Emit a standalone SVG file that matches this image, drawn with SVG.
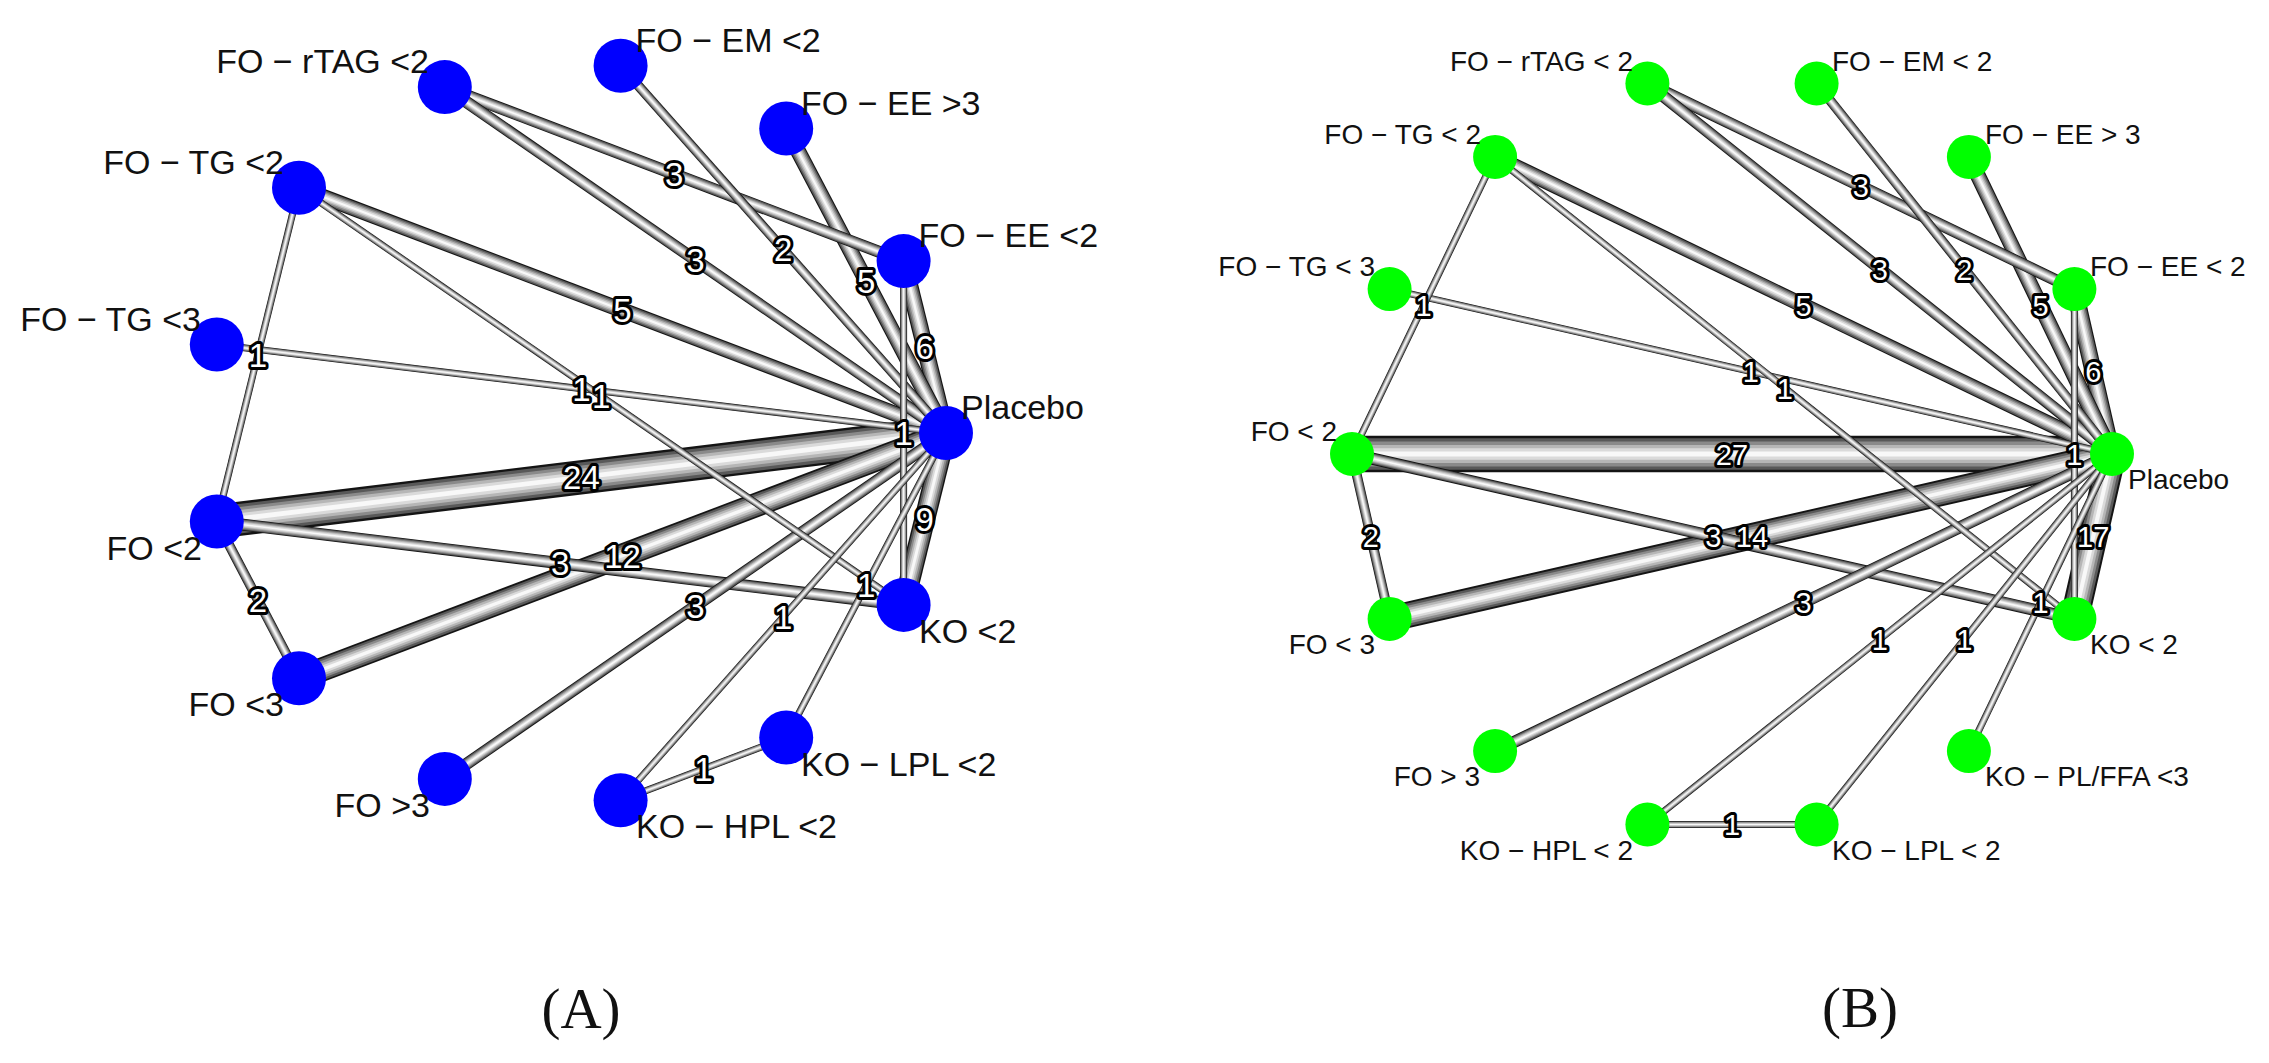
<svg xmlns="http://www.w3.org/2000/svg" xmlns:xlink="http://www.w3.org/1999/xlink" width="2269" height="1063" viewBox="0 0 2269 1063">
<style>
.e use{fill:none;stroke-linecap:butt}
.k1{stroke:#141414;stroke-width:calc(var(--w) * 1px)}
.k2{stroke:#595959;stroke-width:calc(var(--w) * 0.86px)}
.k3{stroke:#8a8a8a;stroke-width:calc(var(--w) * 0.68px)}
.k4{stroke:#b6b6b6;stroke-width:calc(var(--w) * 0.5px)}
.k5{stroke:#dadada;stroke-width:calc(var(--w) * 0.32px)}
.k6{stroke:#f8f8f8;stroke-width:calc(var(--w) * 0.14px)}
.na{font-family:"Liberation Sans",Arial,sans-serif;font-size:34px;fill:#111}
.nb{font-family:"Liberation Sans",Arial,sans-serif;font-size:28px;fill:#111}
.r{text-anchor:end}
.A circle{fill:#0000ff}
.B circle{fill:#00ff00}
.num{font-family:"Liberation Sans",Arial,sans-serif;fill:#fff;stroke:#000;stroke-width:6px;paint-order:stroke;stroke-linejoin:round;text-anchor:middle}
.numA{font-size:33px}
.numB{font-size:29px}
.cap{font-family:"Liberation Serif","Times New Roman",serif;font-size:57px;fill:#111;text-anchor:middle}
</style>
<defs>
<line id="aE1" x1="444.8" y1="87.1" x2="903.6" y2="261.1"/>
<line id="aE2" x1="444.8" y1="87.1" x2="946" y2="433"/>
<line id="aE3" x1="620.6" y1="65.7" x2="946" y2="433"/>
<line id="aE4" x1="786.2" y1="128.5" x2="946" y2="433"/>
<line id="aE5" x1="903.6" y1="261.1" x2="946" y2="433"/>
<line id="aE6" x1="299" y1="187.7" x2="946" y2="433"/>
<line id="aE7" x1="216.8" y1="344.5" x2="946" y2="433"/>
<line id="aE8" x1="299" y1="187.7" x2="903.6" y2="604.9"/>
<line id="aE9" x1="299" y1="187.7" x2="216.8" y2="521.5"/>
<line id="aE10" x1="216.8" y1="521.5" x2="946" y2="433"/>
<line id="aE11" x1="903.6" y1="261.1" x2="903.6" y2="604.9"/>
<line id="aE12" x1="216.8" y1="521.5" x2="299" y2="678.3"/>
<line id="aE13" x1="216.8" y1="521.5" x2="903.6" y2="604.9"/>
<line id="aE14" x1="299" y1="678.3" x2="946" y2="433"/>
<line id="aE15" x1="946" y1="433" x2="903.6" y2="604.9"/>
<line id="aE16" x1="444.8" y1="778.9" x2="946" y2="433"/>
<line id="aE17" x1="620.6" y1="800.3" x2="946" y2="433"/>
<line id="aE18" x1="786.2" y1="737.5" x2="946" y2="433"/>
<line id="aE19" x1="620.6" y1="800.3" x2="786.2" y2="737.5"/>
<line id="bE1" x1="1647.4" y1="83.5" x2="2074.4" y2="289.1"/>
<line id="bE2" x1="1647.4" y1="83.5" x2="2112" y2="454"/>
<line id="bE3" x1="1816.6" y1="83.5" x2="2112" y2="454"/>
<line id="bE4" x1="1968.9" y1="156.9" x2="2112" y2="454"/>
<line id="bE5" x1="2074.4" y1="289.1" x2="2112" y2="454"/>
<line id="bE6" x1="1495.1" y1="156.9" x2="2112" y2="454"/>
<line id="bE7" x1="1389.6" y1="289.1" x2="2112" y2="454"/>
<line id="bE8" x1="1495.1" y1="156.9" x2="2074.4" y2="618.9"/>
<line id="bE9" x1="1495.1" y1="156.9" x2="1352" y2="454"/>
<line id="bE10" x1="1352" y1="454" x2="2112" y2="454"/>
<line id="bE11" x1="2074.4" y1="289.1" x2="2074.4" y2="618.9"/>
<line id="bE12" x1="1352" y1="454" x2="1389.6" y2="618.9"/>
<line id="bE13" x1="1352" y1="454" x2="2074.4" y2="618.9"/>
<line id="bE14" x1="1389.6" y1="618.9" x2="2112" y2="454"/>
<line id="bE15" x1="2112" y1="454" x2="2074.4" y2="618.9"/>
<line id="bE16" x1="1495.1" y1="751.1" x2="2112" y2="454"/>
<line id="bE17" x1="1647.4" y1="824.5" x2="2112" y2="454"/>
<line id="bE18" x1="1816.6" y1="824.5" x2="2112" y2="454"/>
<line id="bE19" x1="1968.9" y1="751.1" x2="2112" y2="454"/>
<line id="bE20" x1="1647.4" y1="824.5" x2="1816.6" y2="824.5"/>
</defs>
<rect x="0" y="0" width="2269" height="1063" fill="#fff"/>

<g id="connectors">
<g id="edges-A">
<g class="e" style="--w:34.3"><use href="#aE10" class="k1"/><use href="#aE10" class="k2"/><use href="#aE10" class="k3"/><use href="#aE10" class="k4"/><use href="#aE10" class="k5"/><use href="#aE10" class="k6"/></g>
<g class="e" style="--w:24.2"><use href="#aE14" class="k1"/><use href="#aE14" class="k2"/><use href="#aE14" class="k3"/><use href="#aE14" class="k4"/><use href="#aE14" class="k5"/><use href="#aE14" class="k6"/></g>
<g class="e" style="--w:21"><use href="#aE15" class="k1"/><use href="#aE15" class="k2"/><use href="#aE15" class="k3"/><use href="#aE15" class="k4"/><use href="#aE15" class="k5"/><use href="#aE15" class="k6"/></g>
<g class="e" style="--w:17.1"><use href="#aE5" class="k1"/><use href="#aE5" class="k2"/><use href="#aE5" class="k3"/><use href="#aE5" class="k4"/><use href="#aE5" class="k5"/><use href="#aE5" class="k6"/></g>
<g class="e" style="--w:15.7"><use href="#aE4" class="k1"/><use href="#aE4" class="k2"/><use href="#aE4" class="k3"/><use href="#aE4" class="k4"/><use href="#aE4" class="k5"/><use href="#aE4" class="k6"/></g>
<g class="e" style="--w:15.7"><use href="#aE6" class="k1"/><use href="#aE6" class="k2"/><use href="#aE6" class="k3"/><use href="#aE6" class="k4"/><use href="#aE6" class="k5"/><use href="#aE6" class="k6"/></g>
<g class="e" style="--w:12.1"><use href="#aE1" class="k1"/><use href="#aE1" class="k2"/><use href="#aE1" class="k3"/><use href="#aE1" class="k4"/><use href="#aE1" class="k5"/><use href="#aE1" class="k6"/></g>
<g class="e" style="--w:12.1"><use href="#aE2" class="k1"/><use href="#aE2" class="k2"/><use href="#aE2" class="k3"/><use href="#aE2" class="k4"/><use href="#aE2" class="k5"/><use href="#aE2" class="k6"/></g>
<g class="e" style="--w:12.1"><use href="#aE13" class="k1"/><use href="#aE13" class="k2"/><use href="#aE13" class="k3"/><use href="#aE13" class="k4"/><use href="#aE13" class="k5"/><use href="#aE13" class="k6"/></g>
<g class="e" style="--w:12.1"><use href="#aE16" class="k1"/><use href="#aE16" class="k2"/><use href="#aE16" class="k3"/><use href="#aE16" class="k4"/><use href="#aE16" class="k5"/><use href="#aE16" class="k6"/></g>
<g class="e" style="--w:9.9"><use href="#aE3" class="k1"/><use href="#aE3" class="k2"/><use href="#aE3" class="k3"/><use href="#aE3" class="k4"/><use href="#aE3" class="k5"/><use href="#aE3" class="k6"/></g>
<g class="e" style="--w:9.9"><use href="#aE12" class="k1"/><use href="#aE12" class="k2"/><use href="#aE12" class="k3"/><use href="#aE12" class="k4"/><use href="#aE12" class="k5"/><use href="#aE12" class="k6"/></g>
<g class="e" style="--w:7"><use href="#aE7" class="k1"/><use href="#aE7" class="k2"/><use href="#aE7" class="k3"/><use href="#aE7" class="k4"/><use href="#aE7" class="k5"/><use href="#aE7" class="k6"/></g>
<g class="e" style="--w:7"><use href="#aE8" class="k1"/><use href="#aE8" class="k2"/><use href="#aE8" class="k3"/><use href="#aE8" class="k4"/><use href="#aE8" class="k5"/><use href="#aE8" class="k6"/></g>
<g class="e" style="--w:7"><use href="#aE9" class="k1"/><use href="#aE9" class="k2"/><use href="#aE9" class="k3"/><use href="#aE9" class="k4"/><use href="#aE9" class="k5"/><use href="#aE9" class="k6"/></g>
<g class="e" style="--w:7"><use href="#aE11" class="k1"/><use href="#aE11" class="k2"/><use href="#aE11" class="k3"/><use href="#aE11" class="k4"/><use href="#aE11" class="k5"/><use href="#aE11" class="k6"/></g>
<g class="e" style="--w:7"><use href="#aE17" class="k1"/><use href="#aE17" class="k2"/><use href="#aE17" class="k3"/><use href="#aE17" class="k4"/><use href="#aE17" class="k5"/><use href="#aE17" class="k6"/></g>
<g class="e" style="--w:7"><use href="#aE18" class="k1"/><use href="#aE18" class="k2"/><use href="#aE18" class="k3"/><use href="#aE18" class="k4"/><use href="#aE18" class="k5"/><use href="#aE18" class="k6"/></g>
<g class="e" style="--w:7"><use href="#aE19" class="k1"/><use href="#aE19" class="k2"/><use href="#aE19" class="k3"/><use href="#aE19" class="k4"/><use href="#aE19" class="k5"/><use href="#aE19" class="k6"/></g>
</g>
<g id="edge-labels-A" class="num numA">
<text x="674.2" y="186">3</text>
<text x="695.4" y="272">3</text>
<text x="783.3" y="261.4">2</text>
<text x="866.1" y="292.8">5</text>
<text x="924.8" y="359">6</text>
<text x="622.5" y="322.4">5</text>
<text x="581.4" y="400.8">1</text>
<text x="601.3" y="408.3">1</text>
<text x="257.9" y="366.6">1</text>
<text x="581.4" y="489.3">24</text>
<text x="903.6" y="445">1</text>
<text x="257.9" y="612">2</text>
<text x="560.2" y="575.2">3</text>
<text x="622.5" y="567.7">12</text>
<text x="924.8" y="531">9</text>
<text x="695.4" y="618">3</text>
<text x="783.3" y="628.7">1</text>
<text x="866.1" y="597.3">1</text>
<text x="703.4" y="781">1</text>
</g>
<g id="edges-B">
<g class="e" style="--w:36.4"><use href="#bE10" class="k1"/><use href="#bE10" class="k2"/><use href="#bE10" class="k3"/><use href="#bE10" class="k4"/><use href="#bE10" class="k5"/><use href="#bE10" class="k6"/></g>
<g class="e" style="--w:28.9"><use href="#bE15" class="k1"/><use href="#bE15" class="k2"/><use href="#bE15" class="k3"/><use href="#bE15" class="k4"/><use href="#bE15" class="k5"/><use href="#bE15" class="k6"/></g>
<g class="e" style="--w:26.2"><use href="#bE14" class="k1"/><use href="#bE14" class="k2"/><use href="#bE14" class="k3"/><use href="#bE14" class="k4"/><use href="#bE14" class="k5"/><use href="#bE14" class="k6"/></g>
<g class="e" style="--w:17.1"><use href="#bE5" class="k1"/><use href="#bE5" class="k2"/><use href="#bE5" class="k3"/><use href="#bE5" class="k4"/><use href="#bE5" class="k5"/><use href="#bE5" class="k6"/></g>
<g class="e" style="--w:15.7"><use href="#bE4" class="k1"/><use href="#bE4" class="k2"/><use href="#bE4" class="k3"/><use href="#bE4" class="k4"/><use href="#bE4" class="k5"/><use href="#bE4" class="k6"/></g>
<g class="e" style="--w:15.7"><use href="#bE6" class="k1"/><use href="#bE6" class="k2"/><use href="#bE6" class="k3"/><use href="#bE6" class="k4"/><use href="#bE6" class="k5"/><use href="#bE6" class="k6"/></g>
<g class="e" style="--w:12.1"><use href="#bE1" class="k1"/><use href="#bE1" class="k2"/><use href="#bE1" class="k3"/><use href="#bE1" class="k4"/><use href="#bE1" class="k5"/><use href="#bE1" class="k6"/></g>
<g class="e" style="--w:12.1"><use href="#bE2" class="k1"/><use href="#bE2" class="k2"/><use href="#bE2" class="k3"/><use href="#bE2" class="k4"/><use href="#bE2" class="k5"/><use href="#bE2" class="k6"/></g>
<g class="e" style="--w:12.1"><use href="#bE13" class="k1"/><use href="#bE13" class="k2"/><use href="#bE13" class="k3"/><use href="#bE13" class="k4"/><use href="#bE13" class="k5"/><use href="#bE13" class="k6"/></g>
<g class="e" style="--w:12.1"><use href="#bE16" class="k1"/><use href="#bE16" class="k2"/><use href="#bE16" class="k3"/><use href="#bE16" class="k4"/><use href="#bE16" class="k5"/><use href="#bE16" class="k6"/></g>
<g class="e" style="--w:9.9"><use href="#bE3" class="k1"/><use href="#bE3" class="k2"/><use href="#bE3" class="k3"/><use href="#bE3" class="k4"/><use href="#bE3" class="k5"/><use href="#bE3" class="k6"/></g>
<g class="e" style="--w:9.9"><use href="#bE12" class="k1"/><use href="#bE12" class="k2"/><use href="#bE12" class="k3"/><use href="#bE12" class="k4"/><use href="#bE12" class="k5"/><use href="#bE12" class="k6"/></g>
<g class="e" style="--w:7"><use href="#bE7" class="k1"/><use href="#bE7" class="k2"/><use href="#bE7" class="k3"/><use href="#bE7" class="k4"/><use href="#bE7" class="k5"/><use href="#bE7" class="k6"/></g>
<g class="e" style="--w:7"><use href="#bE8" class="k1"/><use href="#bE8" class="k2"/><use href="#bE8" class="k3"/><use href="#bE8" class="k4"/><use href="#bE8" class="k5"/><use href="#bE8" class="k6"/></g>
<g class="e" style="--w:7"><use href="#bE9" class="k1"/><use href="#bE9" class="k2"/><use href="#bE9" class="k3"/><use href="#bE9" class="k4"/><use href="#bE9" class="k5"/><use href="#bE9" class="k6"/></g>
<g class="e" style="--w:7"><use href="#bE11" class="k1"/><use href="#bE11" class="k2"/><use href="#bE11" class="k3"/><use href="#bE11" class="k4"/><use href="#bE11" class="k5"/><use href="#bE11" class="k6"/></g>
<g class="e" style="--w:7"><use href="#bE17" class="k1"/><use href="#bE17" class="k2"/><use href="#bE17" class="k3"/><use href="#bE17" class="k4"/><use href="#bE17" class="k5"/><use href="#bE17" class="k6"/></g>
<g class="e" style="--w:7"><use href="#bE18" class="k1"/><use href="#bE18" class="k2"/><use href="#bE18" class="k3"/><use href="#bE18" class="k4"/><use href="#bE18" class="k5"/><use href="#bE18" class="k6"/></g>
<g class="e" style="--w:7"><use href="#bE19" class="k1"/><use href="#bE19" class="k2"/><use href="#bE19" class="k3"/><use href="#bE19" class="k4"/><use href="#bE19" class="k5"/><use href="#bE19" class="k6"/></g>
<g class="e" style="--w:7"><use href="#bE20" class="k1"/><use href="#bE20" class="k2"/><use href="#bE20" class="k3"/><use href="#bE20" class="k4"/><use href="#bE20" class="k5"/><use href="#bE20" class="k6"/></g>
</g>
<g id="edge-labels-B" class="num numB">
<text x="1860.9" y="197">3</text>
<text x="1879.7" y="279.5">3</text>
<text x="1964.3" y="279.5">2</text>
<text x="2040.45" y="316.2">5</text>
<text x="2093.2" y="382.3">6</text>
<text x="1803.55" y="316.2">5</text>
<text x="1750.8" y="382.3">1</text>
<text x="1784.75" y="398.6">1</text>
<text x="1423.55" y="316.2">1</text>
<text x="1732" y="464.7">27</text>
<text x="2074.4" y="464.7">1</text>
<text x="1370.8" y="547.2">2</text>
<text x="1713.2" y="547.2">3</text>
<text x="1752" y="547.2">14</text>
<text x="2093.2" y="547.2">17</text>
<text x="1803.55" y="613.3">3</text>
<text x="1879.7" y="650">1</text>
<text x="1964.3" y="650">1</text>
<text x="2040.45" y="613.3">1</text>
<text x="1732" y="835.2">1</text>
</g>
</g>

<g id="nodes-A" class="A">
<g id="A-placebo"><circle cx="946" cy="433" r="27"/><text class="na" x="961" y="419">Placebo</text></g>
<g id="A-fo-ee-lt2"><circle cx="903.6" cy="261.1" r="27"/><text class="na" x="918.6" y="247">FO − EE &lt;2</text></g>
<g id="A-fo-ee-gt3"><circle cx="786.2" cy="128.5" r="27"/><text class="na" x="801" y="114.5">FO − EE &gt;3</text></g>
<g id="A-fo-em-lt2"><circle cx="620.6" cy="65.7" r="27"/><text class="na" x="635.6" y="52">FO − EM &lt;2</text></g>
<g id="A-fo-rtag-lt2"><circle cx="444.8" cy="87.1" r="27"/><text class="na r" x="429" y="73">FO − rTAG &lt;2</text></g>
<g id="A-fo-tg-lt2"><circle cx="299" cy="187.7" r="27"/><text class="na r" x="284" y="174">FO − TG &lt;2</text></g>
<g id="A-fo-tg-lt3"><circle cx="216.8" cy="344.5" r="27"/><text class="na r" x="201" y="330.5">FO − TG &lt;3</text></g>
<g id="A-fo-lt2"><circle cx="216.8" cy="521.5" r="27"/><text class="na r" x="202" y="559.5">FO &lt;2</text></g>
<g id="A-fo-lt3"><circle cx="299" cy="678.3" r="27"/><text class="na r" x="284" y="716">FO &lt;3</text></g>
<g id="A-fo-gt3"><circle cx="444.8" cy="778.9" r="27"/><text class="na r" x="430" y="817">FO &gt;3</text></g>
<g id="A-ko-hpl-lt2"><circle cx="620.6" cy="800.3" r="27"/><text class="na" x="636" y="838">KO − HPL &lt;2</text></g>
<g id="A-ko-lpl-lt2"><circle cx="786.2" cy="737.5" r="27"/><text class="na" x="801" y="775.5">KO − LPL &lt;2</text></g>
<g id="A-ko-lt2"><circle cx="903.6" cy="604.9" r="27"/><text class="na" x="919" y="643">KO &lt;2</text></g>
</g>

<g id="nodes-B" class="B">
<g id="B-placebo"><circle cx="2112" cy="454" r="22"/><text class="nb" x="2128" y="489">Placebo</text></g>
<g id="B-fo-ee-lt2"><circle cx="2074.4" cy="289.1" r="22"/><text class="nb" x="2090" y="276">FO − EE &lt; 2</text></g>
<g id="B-fo-ee-gt3"><circle cx="1968.9" cy="156.9" r="22"/><text class="nb" x="1985" y="144">FO − EE &gt; 3</text></g>
<g id="B-fo-em-lt2"><circle cx="1816.6" cy="83.5" r="22"/><text class="nb" x="1832" y="70.5">FO − EM &lt; 2</text></g>
<g id="B-fo-rtag-lt2"><circle cx="1647.4" cy="83.5" r="22"/><text class="nb r" x="1633" y="70.5">FO − rTAG &lt; 2</text></g>
<g id="B-fo-tg-lt2"><circle cx="1495.1" cy="156.9" r="22"/><text class="nb r" x="1481" y="144">FO − TG &lt; 2</text></g>
<g id="B-fo-tg-lt3"><circle cx="1389.6" cy="289.1" r="22"/><text class="nb r" x="1375" y="276">FO − TG &lt; 3</text></g>
<g id="B-fo-lt2"><circle cx="1352" cy="454" r="22"/><text class="nb r" x="1337" y="441">FO &lt; 2</text></g>
<g id="B-fo-lt3"><circle cx="1389.6" cy="618.9" r="22"/><text class="nb r" x="1375" y="654">FO &lt; 3</text></g>
<g id="B-fo-gt3"><circle cx="1495.1" cy="751.1" r="22"/><text class="nb r" x="1480" y="786">FO &gt; 3</text></g>
<g id="B-ko-hpl-lt2"><circle cx="1647.4" cy="824.5" r="22"/><text class="nb r" x="1633" y="859.5">KO − HPL &lt; 2</text></g>
<g id="B-ko-lpl-lt2"><circle cx="1816.6" cy="824.5" r="22"/><text class="nb" x="1832" y="859.5">KO − LPL &lt; 2</text></g>
<g id="B-ko-plffa-lt3"><circle cx="1968.9" cy="751.1" r="22"/><text class="nb" x="1985" y="786">KO − PL/FFA &lt;3</text></g>
<g id="B-ko-lt2"><circle cx="2074.4" cy="618.9" r="22"/><text class="nb" x="2090" y="654">KO &lt; 2</text></g>
</g>

<g id="captions">
<text class="cap" x="581" y="1028">(A)</text>
<text class="cap" x="1860" y="1027">(B)</text>
</g>
</svg>
